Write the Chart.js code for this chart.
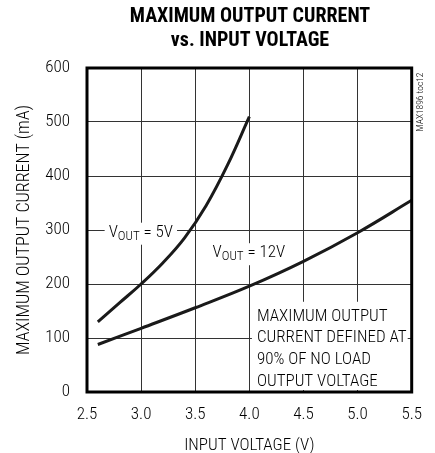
<!DOCTYPE html>
<html>
<head>
<meta charset="utf-8">
<script src="https://cdn.jsdelivr.net/npm/chart.js@4"></script>
<style>
  html, body { margin: 0; padding: 0; background: #fff; }
  #wrap { width: 435px; height: 453px; }
</style>
</head>
<body>
<div id="wrap"><canvas id="chart" width="435" height="453"></canvas></div>
<script>
// values
var vin5 = [2.6, 2.8, 3.0, 3.2, 3.4, 3.6, 3.8, 4.0];
var iout5 = [130, 165, 200, 239, 285, 345, 421, 510];
var vin12 = [2.6, 3.0, 3.5, 4.0, 4.5, 5.0, 5.5];
var iout12 = [88, 118, 156, 196, 242, 295, 355];
var xTicks = [2.5, 3.0, 3.5, 4.0, 4.5, 5.0, 5.5];
var yTicks = [0, 100, 200, 300, 400, 500, 600];
var noteLines = ['MAXIMUM OUTPUT', 'CURRENT DEFINED AT', '90% OF NO LOAD', 'OUTPUT VOLTAGE'];

var FONT = '"Roboto Condensed", sans-serif';

function toPoints(xs, ys) {
  var pts = [];
  for (var i = 0; i < xs.length; i++) pts.push({x: xs[i], y: ys[i]});
  return pts;
}

// V OUT label with subscript, returns width
function drawVout(ctx, x, y, suffix) {
  ctx.font = '300 17px ' + FONT;
  ctx.fillText('V', x, y);
  var w = ctx.measureText('V').width;
  ctx.font = '300 13px ' + FONT;
  ctx.fillText('OUT', x + w, y + 4);
  var w2 = ctx.measureText('OUT').width;
  ctx.font = '300 17px ' + FONT;
  ctx.fillText(suffix, x + w + w2, y);
  return w + w2 + ctx.measureText(suffix).width;
}

var extras = {
  id: 'extras',
  afterDraw: function(chart) {
    var ctx = chart.ctx;
    var a = chart.chartArea;
    var xs = chart.scales.x, ys = chart.scales.y;
    ctx.save();

    // title
    ctx.fillStyle = '#000';
    ctx.textAlign = 'center';
    ctx.textBaseline = 'middle';
    ctx.font = 'bold 20px ' + FONT;
    ctx.fillText('MAXIMUM OUTPUT CURRENT', 250, 17);
    ctx.fillText('vs. INPUT VOLTAGE', 250, 41);

    // curve labels
    ctx.textAlign = 'left';
    ctx.textBaseline = 'middle';
    var x5 = xs.getPixelForValue(2.7), y5 = ys.getPixelForValue(295);
    var w5 = drawVout(ctx, -1000, -1000, ' = 5V');
    ctx.fillStyle = '#fff';
    ctx.fillRect(x5 - 4, y5 - 10, w5 + 8, 22);
    ctx.fillStyle = '#000';
    drawVout(ctx, x5, y5, ' = 5V');

    var x12 = xs.getPixelForValue(3.66), y12 = ys.getPixelForValue(257);
    var w12 = drawVout(ctx, -1000, -1000, ' = 12V');
    ctx.fillStyle = '#fff';
    ctx.fillRect(x12 - 3, y12 - 10, w12 + 6, 22);
    ctx.fillStyle = '#000';
    drawVout(ctx, x12, y12, ' = 12V');

    // note box
    var nx = xs.getPixelForValue(4.07), ny = ys.getPixelForValue(156);
    ctx.fillStyle = '#fff';
    ctx.fillRect(nx - 5, ny - 6, a.right - nx + 1, a.bottom - ny + 4);
    ctx.fillStyle = '#000';
    ctx.font = '300 17px ' + FONT;
    ctx.textBaseline = 'top';
    for (var i = 0; i < noteLines.length; i++) {
      ctx.fillText(noteLines[i], nx, ny + i * 21.7);
    }

    // frame
    ctx.strokeStyle = '#000';
    ctx.lineWidth = 3;
    ctx.strokeRect(a.left, a.top, a.right - a.left, a.bottom - a.top);

    // side code
    ctx.translate(a.right + 9, a.top + 34);
    ctx.rotate(-Math.PI / 2);
    ctx.textAlign = 'center';
    ctx.textBaseline = 'middle';
    ctx.font = '300 9.5px ' + FONT;
    ctx.fillText('MAX1896 toc12', 0, 0);
    ctx.restore();
  }
};

var ctx = document.getElementById('chart');
var chart = new Chart(ctx, {
  type: 'scatter',
  data: {
    datasets: [{
      label: 'VOUT = 5V',
      data: toPoints(vin5, iout5),
      showLine: true,
      borderColor: '#1a1a1a',
      borderWidth: 3,
      pointRadius: 0,
      tension: 0.4
    }, {
      label: 'VOUT = 12V',
      data: toPoints(vin12, iout12),
      showLine: true,
      borderColor: '#1a1a1a',
      borderWidth: 3,
      pointRadius: 0,
      tension: 0.4
    }]
  },
  options: {
    responsive: false,
    animation: false,
    layout: { padding: { top: 68, right: 22, left: 0, bottom: 0 } },
    plugins: {
      legend: { display: false },
      tooltip: { enabled: false }
    },
    scales: {
      x: {
        type: 'linear',
        min: 2.5, max: 5.5,
        afterBuildTicks: function(s) { s.ticks = xTicks.map(function(v) { return {value: v}; }); },
        afterFit: function(s) { s.height = 61; },
        grid: { color: '#333', lineWidth: 1, drawTicks: false },
        border: { display: false },
        ticks: {
          padding: 13, color: '#000', maxRotation: 0,
          font: { family: FONT, size: 17, weight: 300 },
          callback: function(v) { return v.toFixed(1); }
        },
        title: {
          display: true, text: 'INPUT VOLTAGE (V)', color: '#000',
          font: { family: FONT, size: 17, weight: 300 }, padding: { top: 0, bottom: -3 }
        }
      },
      y: {
        min: 0, max: 600,
        afterBuildTicks: function(s) { s.ticks = yTicks.map(function(v) { return {value: v}; }); },
        afterFit: function(s) { s.width = 87; },
        grid: { color: '#333', lineWidth: 1, drawTicks: false },
        border: { display: false },
        ticks: {
          padding: 17, color: '#000',
          font: { family: FONT, size: 17, weight: 300 }
        },
        title: {
          display: true, text: 'MAXIMUM OUTPUT CURRENT (mA)', color: '#000',
          font: { family: FONT, size: 18, weight: 300 }, padding: { top: 14, bottom: 0 }
        }
      }
    }
  },
  plugins: [extras]
});
</script>
</body>
</html>
